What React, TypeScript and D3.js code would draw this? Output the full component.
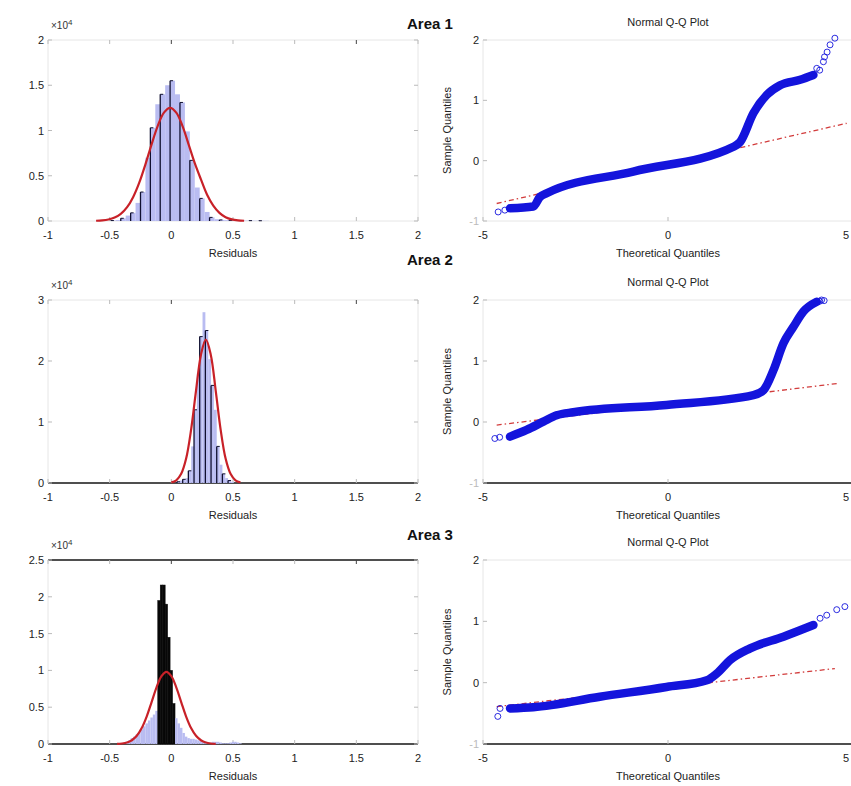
import React from "react";
import * as d3 from "d3";

const W = 851;
const H = 786;

// ---------- shared ticks / labels ----------
const histXTicks = [-1, -0.5, 0, 0.5, 1, 1.5, 2];
const qqXTicks = [-5, 0, 5];
const qqYTicks = [-1, 0, 1, 2];
const areaLabels = ["Area 1", "Area 2", "Area 3"];
const histXLabel = "Residuals";
const qqTitle = "Normal Q-Q Plot";
const qqXLabel = "Theoretical Quantiles";
const qqYLabel = "Sample Quantiles";

// ---------- Area 1 histogram ----------
const hist1Start = -0.49;
const hist1Width = 0.04;
const hist1Counts = [
  50, 100, 300, 600, 900, 2000, 3200, 7000, 10300, 12900, 14000, 15000, 15500,
  14000, 13100, 9900, 6700, 3700, 2500, 1000, 400, 200, 120, 90, 70, 60, 50, 40,
  40, 30, 30, 20,
];
const hist1YTicks = [0, 0.5, 1, 1.5, 2];
const hist1FitX = [
  -0.61, -0.56, -0.51, -0.46, -0.41, -0.36, -0.31, -0.26, -0.21, -0.16, -0.11,
  -0.06, -0.01, 0.04, 0.09, 0.14, 0.19, 0.24, 0.29, 0.34, 0.39, 0.44, 0.49, 0.54,
  0.59,
];
const hist1FitY = [
  25, 66, 165, 376, 785, 1500, 2638, 4238, 6263, 8475, 10513, 11975, 12500,
  11975, 10513, 8475, 6400, 4600, 2900, 1700, 900, 420, 180, 70, 25,
];

// ---------- Area 2 histogram ----------
const hist2Start = 0.046;
const hist2Width = 0.023;
const hist2Counts = [
  200, 400, 600, 800, 2000, 6000, 12000, 18000, 24000, 28000, 25000, 20300,
  16000, 12000, 6000, 3000, 1500, 800, 400, 200,
];
const hist2YTicks = [0, 1, 2, 3];
const hist2FitX = [
  0.0, 0.04, 0.08, 0.12, 0.16, 0.2, 0.24, 0.28, 0.32, 0.36, 0.4, 0.44, 0.48,
  0.52, 0.56,
];
const hist2FitY = [
  110, 440, 1500, 4000, 8700, 15100, 21000, 23500, 21000, 15100, 8700, 4000,
  1500, 440, 110,
];

// ---------- Area 3 histogram ----------
const hist3Start = -0.37;
const hist3Width = 0.02;
const hist3Counts = [
  300, 500, 800, 1000, 1300, 1600, 2000, 2400, 2800, 3200, 3600, 4000, 4500,
  19500, 21600, 21600, 19000, 14500, 10000, 5500, 3500, 2800, 2200, 1500, 1000,
  800, 700, 700, 600, 500, 400, 300, 300, 200, 200, 300, 300, 300, 200, 100, 100,
  100, 200, 300, 300, 200, 100,
];
const hist3YTicks = [0, 0.5, 1, 1.5, 2, 2.5];
const hist3FitX = [
  -0.44, -0.4, -0.36, -0.32, -0.28, -0.24, -0.2, -0.16, -0.12, -0.08, -0.04, 0.0,
  0.04, 0.08, 0.12, 0.16, 0.2, 0.24, 0.28, 0.32, 0.36,
];
const hist3FitY = [
  20, 70, 200, 510, 1110, 2160, 3720, 5690, 7690, 9220, 9800, 9220, 7690, 5690,
  3720, 2160, 1110, 510, 200, 70, 20,
];

// ---------- Q-Q plots ----------
const qq1X = [-4.27, -3.64, -3.46, -3.28, -0.94, 1.77, 1.95, 2.31, 2.67, 3.03, 3.57, 3.93];
const qq1Y = [-0.79, -0.76, -0.6, -0.54, -0.18, 0.23, 0.31, 0.79, 1.09, 1.25, 1.34, 1.42];
const qq1TailX = [-4.59, -4.41, 4.02, 4.1, 4.2, 4.23, 4.3, 4.38, 4.51];
const qq1TailY = [-0.85, -0.82, 1.53, 1.5, 1.64, 1.72, 1.8, 1.92, 2.03];
const qq1RefX = [-4.63, 4.83];
const qq1RefY = [-0.71, 0.62];

const qq2X = [-4.27, -3.82, -3.37, -3.01, -2.56, -0.04, 2.31, 2.58, 2.85, 3.12, 3.39, 3.66, 4.02];
const qq2Y = [-0.24, -0.13, 0.005, 0.11, 0.16, 0.28, 0.44, 0.52, 0.85, 1.29, 1.56, 1.81, 1.97];
const qq2TailX = [-4.68, -4.55, 4.1, 4.15, 4.22];
const qq2TailY = [-0.27, -0.25, 1.98, 2.0, 1.99];
const qq2RefX = [-4.63, 4.56];
const qq2RefY = [-0.05, 0.63];

const qq3X = [-4.27, -3.64, -1.84, -0.04, 1.05, 1.32, 1.68, 2.22, 3.12, 3.93];
const qq3Y = [-0.42, -0.4, -0.23, -0.07, 0.04, 0.15, 0.37, 0.56, 0.75, 0.94];
const qq3TailX = [-4.6, -4.54, 4.11, 4.29, 4.56, 4.78];
const qq3TailY = [-0.55, -0.42, 1.05, 1.1, 1.19, 1.24];
const qq3RefX = [-4.63, 4.51];
const qq3RefY = [-0.39, 0.23];

// ---------- layout ----------
const rows = [
  { top: 40, bottom: 221, areaY: 29 },
  { top: 300, bottom: 483, areaY: 265 },
  { top: 560, bottom: 744, areaY: 540 },
];
const histLeft = 48;
const histRight = 418;
const qqLeft = 483;
const qqRight = 853;

const FONT = "'Liberation Sans', Arial, Helvetica, sans-serif";
const BAR_FILL = "#b9bcf1";
const FIT_RED = "#c82128";
const QQ_BLUE = "#1414dc";
const FAINT = "#e6e6e6";

type HistCfg = {
  start: number;
  width: number;
  counts: number[];
  yTicks: number[];
  fitX: number[];
  fitY: number[];
  edgeEvery: number;
  darkAbove: number;
  strong: string[];
};

type QQCfg = {
  x: number[];
  y: number[];
  tailX: number[];
  tailY: number[];
  refX: number[];
  refY: number[];
  strong: string[];
};

const hists: HistCfg[] = [
  { start: hist1Start, width: hist1Width, counts: hist1Counts, yTicks: hist1YTicks, fitX: hist1FitX, fitY: hist1FitY, edgeEvery: 2, darkAbove: Infinity, strong: [] },
  { start: hist2Start, width: hist2Width, counts: hist2Counts, yTicks: hist2YTicks, fitX: hist2FitX, fitY: hist2FitY, edgeEvery: 2, darkAbove: Infinity, strong: ["bottom"] },
  { start: hist3Start, width: hist3Width, counts: hist3Counts, yTicks: hist3YTicks, fitX: hist3FitX, fitY: hist3FitY, edgeEvery: 0, darkAbove: 5000, strong: ["bottom", "top"] },
];

const qqs: QQCfg[] = [
  { x: qq1X, y: qq1Y, tailX: qq1TailX, tailY: qq1TailY, refX: qq1RefX, refY: qq1RefY, strong: [] },
  { x: qq2X, y: qq2Y, tailX: qq2TailX, tailY: qq2TailY, refX: qq2RefX, refY: qq2RefY, strong: ["bottom"] },
  { x: qq3X, y: qq3Y, tailX: qq3TailX, tailY: qq3TailY, refX: qq3RefX, refY: qq3RefY, strong: ["bottom"] },
];

function Frame({ x0, x1, y0, y1, strong }: { x0: number; x1: number; y0: number; y1: number; strong: string[] }) {
  const sides: [string, number, number, number, number][] = [
    ["top", x0, y0, x1, y0],
    ["bottom", x0, y1, x1, y1],
    ["left", x0, y0, x0, y1],
    ["right", x1, y0, x1, y1],
  ];
  return (
    <g>
      {sides.map(([name, a, b, c, d]) => (
        <line
          key={name}
          x1={a}
          y1={b}
          x2={c}
          y2={d}
          stroke={strong.includes(name) ? "#151515" : FAINT}
          strokeWidth={strong.includes(name) ? 1.6 : 1}
        />
      ))}
    </g>
  );
}

function HistPanel({ cfg, row }: { cfg: HistCfg; row: (typeof rows)[number] }) {
  const x = d3.scaleLinear().domain([-1, 2]).range([histLeft, histRight]);
  const yMax = cfg.yTicks[cfg.yTicks.length - 1] * 1e4;
  const y = d3.scaleLinear().domain([0, yMax]).range([row.bottom, row.top]);
  const bins = cfg.counts.map((c, i) => ({ x0: cfg.start + i * cfg.width, x1: cfg.start + (i + 1) * cfg.width, c, i }));
  const fit = cfg.fitX.map((v, i) => [v, cfg.fitY[i]] as [number, number]);
  const line = d3
    .line<[number, number]>()
    .x((d) => x(d[0]))
    .y((d) => y(d[1]))
    .curve(d3.curveCatmullRom);
  return (
    <g>
      <Frame x0={histLeft} x1={histRight} y0={row.top} y1={row.bottom} strong={cfg.strong} />
      {histXTicks.map((t) => (
        <g key={"xt" + t}>
          <line x1={x(t)} x2={x(t)} y1={row.bottom} y2={row.bottom - 4} stroke="#bbb" />
          <line x1={x(t)} x2={x(t)} y1={row.top} y2={row.top + 4} stroke={t === 0 || t === 1.5 ? "#444" : "#bbb"} />
          <text x={x(t)} y={row.bottom + 18} textAnchor="middle" fontSize={11} fill="#222">
            {String(t)}
          </text>
        </g>
      ))}
      {cfg.yTicks.map((t) => (
        <g key={"yt" + t}>
          <line x1={histLeft} x2={histLeft + 4} y1={y(t * 1e4)} y2={y(t * 1e4)} stroke="#bbb" />
          <line x1={histRight} x2={histRight - 4} y1={y(t * 1e4)} y2={y(t * 1e4)} stroke="#bbb" />
          <text x={44} y={y(t * 1e4) + 4} textAnchor="end" fontSize={11} fill="#222">
            {String(t)}
          </text>
        </g>
      ))}
      <text x={51} y={row.top - 11} fontSize={10} fill="#333">
        ×10
        <tspan dy={-4} fontSize={8}>
          4
        </tspan>
      </text>
      {bins.map((b) => (
        <rect
          key={"b" + b.i}
          x={x(b.x0)}
          y={y(b.c)}
          width={Math.max(0, x(b.x1) - x(b.x0))}
          height={row.bottom - y(b.c)}
          fill={b.c > cfg.darkAbove ? "#080808" : BAR_FILL}
          stroke={b.c > cfg.darkAbove ? "#080808" : "none"}
          strokeWidth={0.5}
        />
      ))}
      {cfg.edgeEvery > 0 &&
        bins
          .filter((b) => b.i % cfg.edgeEvery === 0)
          .map((b) => (
            <g key={"e" + b.i}>
              <line x1={x(b.x0)} x2={x(b.x0)} y1={row.bottom} y2={y(b.c)} stroke="#101030" strokeWidth={1.3} />
              <line x1={x(b.x0)} x2={x(b.x0) + 3} y1={y(b.c)} y2={y(b.c)} stroke="#101030" strokeWidth={1} />
            </g>
          ))}
      <path d={line(fit) || ""} fill="none" stroke={FIT_RED} strokeWidth={2.2} strokeLinejoin="round" />
      <text x={(histLeft + histRight) / 2} y={row.bottom + 36} textAnchor="middle" fontSize={11} fill="#222">
        {histXLabel}
      </text>
    </g>
  );
}

function QQPanel({ cfg, row }: { cfg: QQCfg; row: (typeof rows)[number] }) {
  const x = d3.scaleLinear().domain([-5, 5]).range([qqLeft, qqRight]);
  const y = d3.scaleLinear().domain([-1, 2]).range([row.bottom, row.top]);
  const pts = cfg.x.map((v, i) => [v, cfg.y[i]] as [number, number]);
  const ref = cfg.refX.map((v, i) => [v, cfg.refY[i]] as [number, number]);
  const line = d3
    .line<[number, number]>()
    .x((d) => x(d[0]))
    .y((d) => y(d[1]));
  const band = d3
    .line<[number, number]>()
    .x((d) => x(d[0]))
    .y((d) => y(d[1]))
    .curve(d3.curveMonotoneX);
  const midY = (row.top + row.bottom) / 2;
  return (
    <g>
      <Frame x0={qqLeft} x1={qqRight} y0={row.top} y1={row.bottom} strong={cfg.strong} />
      {qqXTicks.map((t) => (
        <g key={"xt" + t}>
          <line x1={x(t)} x2={x(t)} y1={row.bottom} y2={row.bottom - 4} stroke="#bbb" />
          <text x={Math.min(x(t), W - 5)} y={row.bottom + 18} textAnchor="middle" fontSize={11} fill="#222">
            {String(t)}
          </text>
        </g>
      ))}
      {qqYTicks.map((t) => (
        <g key={"yt" + t}>
          <line x1={qqLeft} x2={qqLeft + 4} y1={y(t)} y2={y(t)} stroke="#bbb" />
          <text x={479} y={y(t) + 4} textAnchor="end" fontSize={11} fill={t === -1 ? "#bbb" : "#222"}>
            {String(t)}
          </text>
        </g>
      ))}
      <path d={line(ref) || ""} fill="none" stroke="#d23c3c" strokeWidth={1.3} strokeDasharray="5,3,1.5,3" />
      <path d={band(pts) || ""} fill="none" stroke={QQ_BLUE} strokeWidth={8.5} strokeLinecap="round" strokeLinejoin="round" />
      {cfg.tailX.map((v, i) => (
        <circle key={"t" + i} cx={x(v)} cy={y(cfg.tailY[i])} r={3} fill="none" stroke={QQ_BLUE} strokeWidth={0.9} />
      ))}
      <text x={(qqLeft + qqRight) / 2} y={row.top - 14} textAnchor="middle" fontSize={11} fill="#222">
        {qqTitle}
      </text>
      <text x={(qqLeft + qqRight) / 2} y={row.bottom + 36} textAnchor="middle" fontSize={11} fill="#222">
        {qqXLabel}
      </text>
      <text
        transform={`translate(451,${midY}) rotate(-90)`}
        textAnchor="middle"
        fontSize={11}
        fill="#222"
      >
        {qqYLabel}
      </text>
    </g>
  );
}

export default function App() {
  return (
    <svg
      width={W}
      height={H}
      viewBox={`0 0 ${W} ${H}`}
      style={{ position: "absolute", left: 0, top: 0, background: "#fff", fontFamily: FONT }}
    >
      <rect x={0} y={0} width={W} height={H} fill="#fff" />
      {rows.map((row, i) => (
        <g key={"r" + i}>
          <HistPanel cfg={hists[i]} row={row} />
          <QQPanel cfg={qqs[i]} row={row} />
          <text x={407} y={row.areaY} fontSize={15} fontWeight="bold" fill="#111">
            {areaLabels[i]}
          </text>
        </g>
      ))}
    </svg>
  );
}
